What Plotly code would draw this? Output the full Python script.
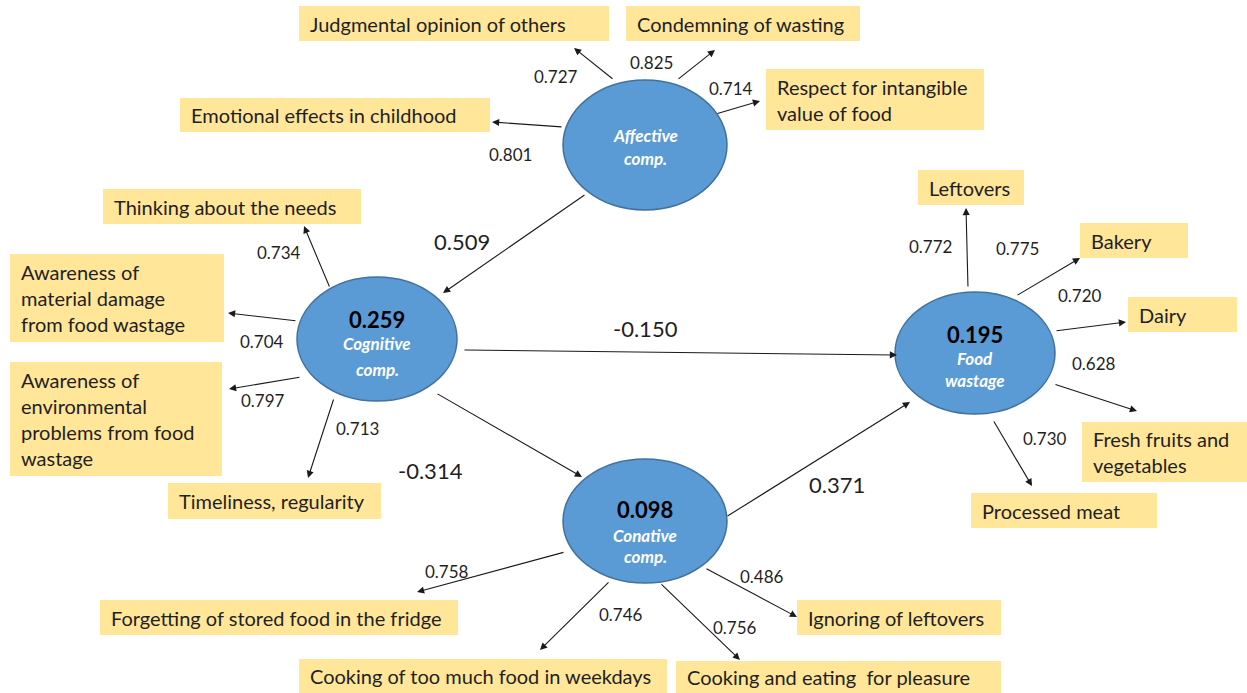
import plotly.graph_objects as go

W, H = 1247, 693
FONT = "Lato"

# ---- latent constructs (R² values and names) ----
latent_names = [["Affective", "comp."], ["Cognitive", "comp."], ["Food", "wastage"], ["Conative", "comp."]]
latent_r2 = ["", "0.259", "0.195", "0.098"]
# ellipse layout: (cx, cy, rx, ry)
latent_geom = [(645, 145, 82, 65), (377, 339, 80, 62), (975, 353, 80, 61), (645, 521, 82, 62)]
# text rows inside ellipses (y of R², y of name lines)
latent_text_y = [(None, 135, 158), (319, 343, 369), (334, 358, 380), (509, 535, 556)]

# ---- indicators ----
indicator_labels = [
    ["Judgmental opinion of others"],
    ["Condemning of wasting"],
    ["Respect for intangible", "value of food"],
    ["Emotional effects in childhood"],
    ["Thinking about the needs"],
    ["Awareness of", "material damage", "from food wastage"],
    ["Awareness of", "environmental", "problems from food", "wastage"],
    ["Timeliness, regularity"],
    ["Leftovers"],
    ["Bakery"],
    ["Dairy"],
    ["Fresh fruits and", "vegetables"],
    ["Processed meat"],
    ["Forgetting of stored food in the fridge"],
    ["Ignoring of leftovers"],
    ["Cooking of too much food in weekdays"],
    ["Cooking and eating  for pleasure"],
]
indicator_loadings = ["0.727", "0.825", "0.714", "0.801", "0.734", "0.704", "0.797", "0.713",
                      "0.772", "0.775", "0.720", "0.628", "0.730", "0.758", "0.486", "0.746", "0.756"]
# box layout (x0, y0, x1, y1)
box_geom = [
    (299, 6, 609, 41), (626, 6, 860, 41), (766, 69, 984, 130), (180, 98, 490, 132),
    (103, 189, 361, 224), (10, 254, 224, 342), (10, 362, 222, 476), (168, 483, 381, 519),
    (918, 170, 1024, 205), (1080, 223, 1188, 258), (1128, 297, 1237, 332), (1082, 422, 1247, 482),
    (971, 493, 1157, 528), (100, 600, 458, 635), (797, 600, 1001, 635), (299, 659, 667, 693),
    (676, 661, 1001, 693),
]
# loading arrows: (tail x, tail y, head x, head y)
load_arrows = [
    (614, 80, 574, 48), (677, 80, 715, 50), (716, 114, 760, 101), (563, 127, 492, 122),
    (330, 288, 304, 226), (297, 321, 228, 313), (301, 377, 229, 389), (334, 398, 308, 478),
    (968, 288, 966, 208), (1016, 296, 1080, 258), (1055, 331, 1126, 322), (1054, 384, 1137, 411),
    (993, 420, 1032, 486), (565, 552, 417, 592), (705, 568, 797, 617), (610, 581, 540, 650),
    (660, 583, 740, 660),
]
load_label_pos = [
    (556, 76), (651, 62), (731, 88), (510, 154), (279, 252), (262, 341), (263, 400), (357, 428),
    (930, 246), (1017, 248), (1080, 295), (1094, 363), (1045, 438), (447, 571), (762, 576),
    (621, 614), (735, 627),
]

# ---- structural paths ----
path_coefs = ["0.509", "-0.150", "-0.314", "0.371"]
path_arrows = [(586, 194, 443, 293), (463, 350, 897, 355), (436, 393, 582, 477), (726, 517, 910, 402)]
path_label_pos = [(462, 241), (645, 328), (430, 470), (837, 484)]

fig = go.Figure()
shapes, annos = [], []

# boxes
for (x0, y0, x1, y1), lines in zip(box_geom, indicator_labels):
    shapes.append(dict(type="rect", x0=x0, x1=x1, y0=y0, y1=y1, xref="x", yref="y",
                       fillcolor="#FFE699", line=dict(width=0), layer="below"))
    n = len(lines)
    cy = (y0 + y1) / 2
    for i, t in enumerate(lines):
        ty = cy + (i - (n - 1) / 2) * 26
        annos.append(dict(x=x0 + 9, y=ty, text=t, showarrow=False, xanchor="left", yanchor="middle",
                          xref="x", yref="y", font=dict(family=FONT, size=20, color="#1f1f1f")))

# ellipses
for (cx, cy, rx, ry), names, r2, ty in zip(latent_geom, latent_names, latent_r2, latent_text_y):
    shapes.append(dict(type="circle", x0=cx - rx, x1=cx + rx, y0=cy - ry, y1=cy + ry, xref="x", yref="y",
                       fillcolor="#5B9BD5", line=dict(color="#41719C", width=1.5), layer="below"))
    if r2:
        annos.append(dict(x=cx, y=ty[0], text="<b>" + r2 + "</b>", showarrow=False, xref="x", yref="y",
                          font=dict(family=FONT, size=22, color="black")))
    for t, yy in zip(names, ty[1:]):
        annos.append(dict(x=cx, y=yy, text="<b><i>" + t + "</i></b>", showarrow=False, xref="x", yref="y",
                          font=dict(family=FONT, size=17, color="white")))

def arrow(t):
    tx, ty, hx, hy = t
    return dict(x=hx, y=hy, ax=tx, ay=ty, xref="x", yref="y", axref="x", ayref="y", text="",
                showarrow=True, arrowhead=2, arrowsize=1.3, arrowwidth=1.1, arrowcolor="#1a1a1a")

for a, lab, (lx, ly) in zip(load_arrows, indicator_loadings, load_label_pos):
    annos.append(arrow(a))
    annos.append(dict(x=lx, y=ly, text=lab, showarrow=False, xref="x", yref="y",
                      font=dict(family=FONT, size=17, color="#1f1f1f")))

for a, lab, (lx, ly) in zip(path_arrows, path_coefs, path_label_pos):
    annos.append(arrow(a))
    annos.append(dict(x=lx, y=ly, text=lab, showarrow=False, xref="x", yref="y",
                      font=dict(family=FONT, size=22, color="#1f1f1f")))

fig.update_layout(
    width=W, height=H, margin=dict(l=0, r=0, t=0, b=0),
    paper_bgcolor="white", plot_bgcolor="white", showlegend=False,
    xaxis=dict(range=[0, W], visible=False, fixedrange=True),
    yaxis=dict(range=[H, 0], visible=False, fixedrange=True),
    shapes=shapes, annotations=annos,
)
fig.write_html("out.html", config={"displayModeBar": False},
               post_script="document.body.style.margin='0';document.body.style.overflow='hidden';")
